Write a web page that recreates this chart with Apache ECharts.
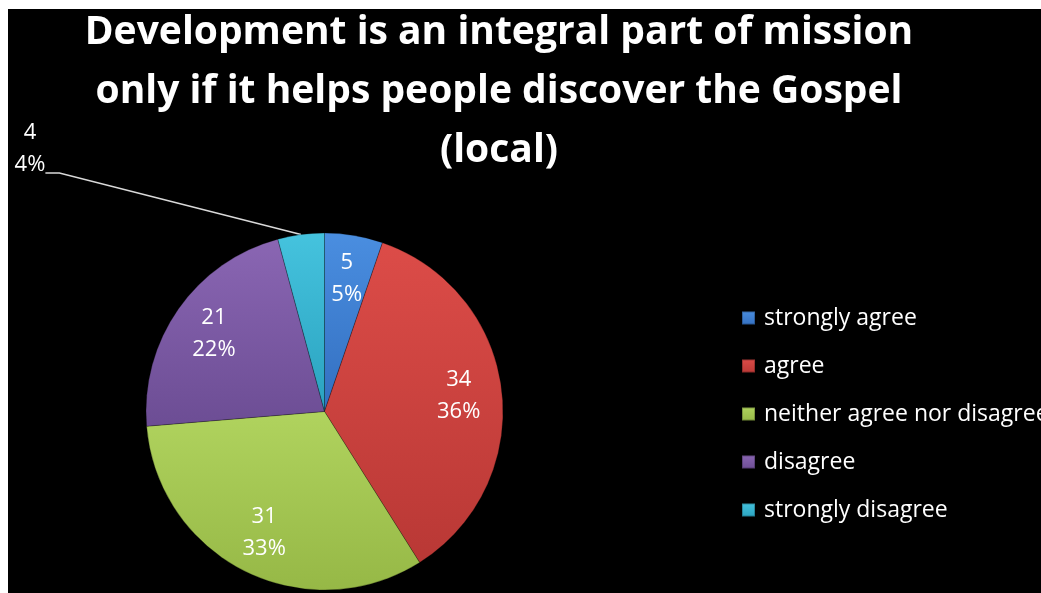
<!DOCTYPE html>
<html>
<head>
<meta charset="utf-8">
<style>
  html, body { margin: 0; padding: 0; background: #ffffff; width: 1041px; height: 593px; overflow: hidden; }
  #chart { position: absolute; left: 8px; top: 9px; width: 1033px; height: 584px; background: #000; }
</style>
<script src="https://cdn.jsdelivr.net/npm/echarts@6/dist/echarts.min.js"></script>
</head>
<body>
<div id="chart"></div>
<script>
// Survey responses (counts)
const categories = ['strongly agree', 'agree', 'neither agree nor disagree', 'disagree', 'strongly disagree'];
const counts = [5, 34, 31, 21, 4];
const titleLines = [
  'Development is an integral part of mission',
  'only if it helps people discover the Gospel',
  '(local)'
];
// Response whose label sits outside the pie with a leader line
const outsideLabelName = 'strongly disagree';

// Bevel-like shading: lighter at top, darker at bottom of each slice
const sliceColors = [
  ['#4a8ee0', '#336fc0'],
  ['#dc4c48', '#b93835'],
  ['#b0d35e', '#96b846'],
  ['#8a66b3', '#6c4d94'],
  ['#45c3de', '#2aa2bf']
];
const fontFamily = '"Open Sans", Lato, sans-serif';

function shade(pair) {
  return new echarts.graphic.LinearGradient(0, 0, 0, 1, [
    { offset: 0, color: pair[0] },
    { offset: 1, color: pair[1] }
  ]);
}

const chart = echarts.init(document.getElementById('chart'), null, { renderer: 'canvas' });

const center = ['30.64%', '68.92%'];
const outerRadius = '61.13%';

const pieData = categories.map((name, i) => ({
  name: name,
  value: counts[i],
  itemStyle: { color: shade(sliceColors[i]) }
}));

const labelData = categories.map((name, i) => {
  const item = { name: name, value: counts[i] };
  if (name === outsideLabelName) {
    item.label = { position: 'outside', padding: [0, 0, 48, 0] };
    item.labelLine = {
      show: true,
      length: 10,
      length2: 14,
      smooth: false,
      lineStyle: { color: '#d9d9d9', width: 1.5 }
    };
  }
  return item;
});

const option = {
  backgroundColor: '#000000',
  animation: false,
  color: sliceColors.map(p => p[0]),
  title: {
    text: titleLines.join('\n'),
    left: 491,
    top: -6,
    padding: 0,
    textAlign: 'center',
    textStyle: {
      color: '#ffffff',
      fontFamily: fontFamily,
      fontWeight: 'bold',
      fontSize: 39,
      lineHeight: 59
    }
  },
  legend: {
    orient: 'vertical',
    left: 728,
    top: 292,
    padding: 5,
    data: categories,
    icon: 'rect',
    itemWidth: 13,
    itemHeight: 13,
    itemGap: 24,
    textStyle: {
      color: '#ffffff',
      fontFamily: fontFamily,
      fontSize: 23,
      lineHeight: 24,
      padding: [0, 0, 0, 4]
    },
    selectedMode: false
  },
  series: [
    {
      name: 'responses',
      type: 'pie',
      center: center,
      radius: outerRadius,
      startAngle: 90,
      clockwise: true,
      label: { show: false },
      labelLine: { show: false },
      itemStyle: { borderColor: 'rgba(0,0,0,0.25)', borderWidth: 1 },
      emphasis: { disabled: true },
      data: pieData
    },
    {
      // transparent ring that carries the value/percent labels
      name: 'labels',
      type: 'pie',
      silent: true,
      center: center,
      radius: ['29.35%', outerRadius],
      startAngle: 90,
      clockwise: true,
      percentPrecision: 0,
      avoidLabelOverlap: false,
      itemStyle: { color: 'rgba(0,0,0,0)', borderWidth: 0 },
      emphasis: { disabled: true },
      label: {
        show: true,
        position: 'inside',
        formatter: '{c}\n{d}%',
        color: '#ffffff',
        fontFamily: fontFamily,
        fontSize: 22,
        lineHeight: 32,
        align: 'center'
      },
      labelLine: { show: false },
      labelLayout: function (params) {
        if (categories[params.dataIndex] === outsideLabelName) {
          return { x: 22, y: 108, align: 'center', verticalAlign: 'top' };
        }
      },
      data: labelData
    }
  ]
};

chart.setOption(option);
</script>
</body>
</html>
